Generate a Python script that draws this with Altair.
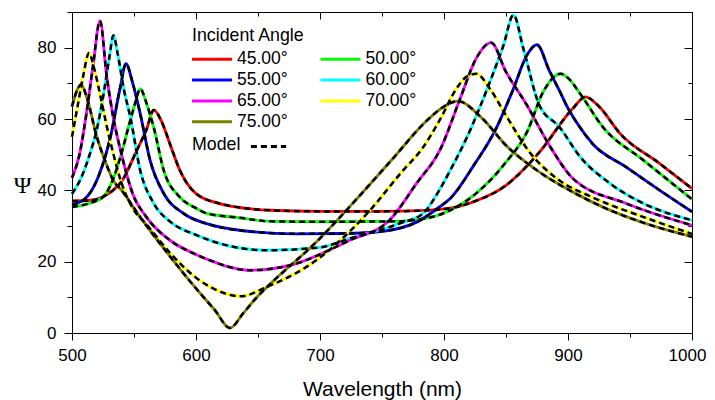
import altair as alt
import pandas as pd

angles = ["45.00°", "50.00°", "55.00°", "60.00°", "65.00°", "70.00°", "75.00°"]
colors = ["#ff0000", "#00ff00", "#0000ff", "#00ffff", "#ff00ff", "#ffff00", "#808000"]

wl_45 = [500, 515, 525, 533, 540, 552, 560, 566, 572, 579, 587, 600, 619, 635, 660, 700, 750, 780, 805, 823, 850, 877, 904, 914, 925, 942, 974, 1000]
psi_45 = [37, 37.2, 38.2, 40, 42.5, 51, 57, 62.5, 59.5, 53, 45.6, 39.1, 36.3, 35.2, 34.4, 34.1, 34.1, 34.3, 35, 36.7, 41.4, 50.7, 63, 66.2, 63.5, 55.9, 47.5, 40.5]

wl_50 = [500, 515, 525, 533, 539, 547, 551, 555, 560, 566, 574, 587, 600, 609, 635, 660, 700, 760, 790, 805, 824, 850, 867, 880, 894, 900, 910, 928, 961, 1000]
psi_50 = [35.3, 36.5, 38.1, 43, 49.3, 59.6, 64.5, 68.5, 64.5, 57.5, 45.6, 38.1, 35, 33.5, 32.3, 31.3, 31.2, 31.3, 32.5, 34.4, 38.6, 47.9, 56.4, 67.6, 72.7, 71.5, 67, 57.8, 48.4, 37.5]

wl_55 = [500, 510, 515, 522, 531, 539, 543.5, 549, 555, 563, 574, 590, 610, 640, 680, 720, 745, 778, 797, 805, 824, 842, 856, 867, 875, 885, 893, 900, 907, 920, 947, 974, 1000]
psi_55 = [36, 37.5, 39.5, 44.5, 55, 69, 75.5, 70, 61.5, 48.4, 39.1, 33.5, 30.5, 28.6, 27.8, 27.9, 28.3, 31.1, 35.5, 37.7, 47, 57.3, 68.5, 78, 80.8, 73.5, 68, 63, 59, 53, 46.5, 40, 34]

wl_60 = [500, 508, 514.5, 520, 525, 530, 533.4, 537, 542, 547, 555, 566, 580, 600, 620, 657, 700, 724, 764, 783, 797, 805, 818, 837, 848, 856, 864, 877, 893, 910, 934, 961, 1000]
psi_60 = [39, 44, 50.3, 57, 66, 77, 83.4, 78, 68, 60.6, 45.6, 36.3, 31, 27.5, 25, 23.2, 24, 26.5, 30.7, 33.5, 40.5, 45.6, 54.5, 70.4, 80.7, 89.2, 79.7, 63.8, 57.8, 49.3, 41.9, 36.3, 31.6]

wl_65 = [500, 506, 512, 517, 522.6, 528, 533, 540, 549, 560, 579, 600, 611, 643, 676, 724, 756, 778, 797, 813, 826, 838, 850, 867, 885, 904, 947, 1000]
psi_65 = [43.5, 50, 62.4, 75, 87.5, 72, 61, 50, 39, 32.5, 26, 22, 20.4, 17.6, 19, 26, 31.6, 42, 51.5, 65.7, 77, 81.4, 73.2, 63.8, 52.6, 43.3, 36.3, 30.2]

wl_70 = [500, 505, 509, 513.7, 518, 522.6, 528, 533.3, 540, 549, 560, 579, 600, 611, 636, 657, 697, 738, 767, 782, 797, 810, 818, 826, 837, 850, 869, 891, 920, 961, 1000]
psi_70 = [55, 64.5, 72, 78.5, 74, 67, 58, 50.3, 42, 35, 30.5, 22.5, 15.5, 13, 10.3, 12.9, 20.4, 33.5, 45.6, 51.5, 60, 68.5, 71.8, 72.7, 68.5, 61, 50.7, 43.3, 38, 32.5, 27.8]

wl_75 = [500, 504, 507.3, 512, 520, 527, 533.3, 540, 555, 579, 600, 615, 627.4, 638, 649, 660, 697, 732, 759, 786, 800, 811, 831, 850, 877, 904, 930, 960, 1000]
psi_75 = [63.5, 68, 69.7, 66, 55, 48, 42.8, 40, 32.5, 21.5, 12.5, 6.5, 1.4, 5.5, 10, 13.8, 25.5, 38.5, 49, 59.5, 63.5, 65, 60.1, 52.6, 45.1, 39.5, 35, 31, 27]

x_ticks = [500, 550, 600, 650, 700, 750, 800, 850, 900, 950, 1000]
y_ticks = [0, 10, 20, 30, 40, 50, 60, 70, 80, 90]

series = [
    (angles[0], wl_45, psi_45),
    (angles[1], wl_50, psi_50),
    (angles[2], wl_55, psi_55),
    (angles[3], wl_60, psi_60),
    (angles[4], wl_65, psi_65),
    (angles[5], wl_70, psi_70),
    (angles[6], wl_75, psi_75),
]
rows = []
for name, wls, ps in series:
    for w, p in zip(wls, ps):
        rows.append({"angle": name, "wl": w, "psi": p, "fit": "Model"})
df = pd.DataFrame(rows)

# legend fills column by column: order entries so rows read 45|50, 55|60, 65|70, 75
legend_order = [0, 2, 4, 6, 1, 3, 5]
leg_domain = [angles[i] for i in legend_order]
leg_range = [colors[i] for i in legend_order]

FONT = "Liberation Sans"
W, H = 620, 321

xs = alt.Scale(domain=[500, 1000], nice=False, zero=False)
ys = alt.Scale(domain=[0, 90], nice=False, zero=False)

x_major = "datum.value % 100 === 0"
y_major = "datum.value % 20 === 0"

x_axis = alt.Axis(
    values=x_ticks, format="d", labelExpr=f"{x_major} ? datum.label : ''", labelFlush=False,
    labelOffset={"condition": {"test": "datum.value === 1000", "value": -5}, "value": 0},
    tickSize={"condition": {"test": x_major, "value": 7}, "value": 4},
    grid=False, domainColor="black", tickColor="black", labelColor="black",
    labelFont=FONT, labelFontSize=17, labelPadding=7,
    title="Wavelength (nm)", titleFont=FONT, titleFontSize=21, titleFontWeight="normal",
    titleColor="black", titleBaseline="alphabetic", titleX=W / 2, titleY=62,
)
y_axis = alt.Axis(
    values=y_ticks, format="d", labelExpr=f"{y_major} ? datum.label : ''", labelFlush=False,
    tickSize={"condition": {"test": y_major, "value": 8}, "value": 5},
    grid=False, domainColor="black", tickColor="black", labelColor="black",
    labelFont=FONT, labelFontSize=17, labelPadding=8,
    title="Ψ", titleFont="Liberation Serif", titleFontSize=24, titleFontWeight="normal",
    titleColor="black", titleAngle=0, titleAlign="center", titleBaseline="middle",
    titleX=-50, titleY=173,
)
x_axis_top = alt.Axis(
    values=x_ticks, orient="bottom", offset=-H, labels=False, title="",
    tickSize={"condition": {"test": x_major, "value": 7}, "value": 4},
    grid=False, domainColor="black", tickColor="black",
)
y_axis_right = alt.Axis(
    values=y_ticks, orient="left", offset=-W, labels=False, title="",
    tickSize={"condition": {"test": y_major, "value": 8}, "value": 4},
    grid=False, domainColor="black", tickColor="black",
)

leg_angle = alt.Legend(
    title="Incident Angle", orient="none", legendX=120, legendY=15,
    columns=2, columnPadding=26.5, rowPadding=2.8,
    symbolType="M-2.5,0H2.5", symbolSize=256, symbolStrokeWidth=3,
    symbolOffset=10.5, labelOffset=15.5,
    labelFont=FONT, labelFontSize=17.5, labelColor="black",
    titleFont=FONT, titleFontSize=17.8, titleFontWeight="normal", titleColor="black",
    titlePadding=5, padding=0,
)
leg_model = alt.Legend(
    title="Model", orient="none", legendX=120, legendY=125,
    titleOrient="left", titleBaseline="middle", titlePadding=10,
    labelExpr="''", labelOffset=0,
    symbolType="M-2.2,0H2.2", symbolSize=256, symbolStrokeWidth=3,
    symbolStrokeColor="black", symbolOffset=8,
    titleFont=FONT, titleFontSize=17.8, titleFontWeight="normal", titleColor="black",
    padding=0,
)

colored = alt.Chart(df).mark_line(strokeWidth=2.9, interpolate="monotone").encode(
    x=alt.X("wl:Q", scale=xs, axis=x_axis),
    y=alt.Y("psi:Q", scale=ys, axis=y_axis),
    color=alt.Color("angle:N", scale=alt.Scale(domain=leg_domain, range=leg_range), legend=leg_angle),
)
dashed = alt.Chart(df).mark_line(color="black", strokeWidth=2.5, interpolate="monotone").encode(
    x=alt.X("wl:Q", scale=xs, axis=x_axis_top),
    y=alt.Y("psi:Q", scale=ys, axis=y_axis_right),
    detail="angle:N",
    strokeDash=alt.StrokeDash("fit:N", scale=alt.Scale(domain=["Model"], range=[[6, 4]]), legend=leg_model),
)

chart = alt.layer(colored, dashed).resolve_axis(x="independent", y="independent").properties(
    width=W, height=H,
    autosize=alt.AutoSizeParams(type="none"),
    padding={"left": 64, "top": 4, "right": 15, "bottom": 67},
    background="white",
).configure_view(strokeWidth=0)

chart.save("out.html", embed_options={"renderer": "svg", "actions": False})
